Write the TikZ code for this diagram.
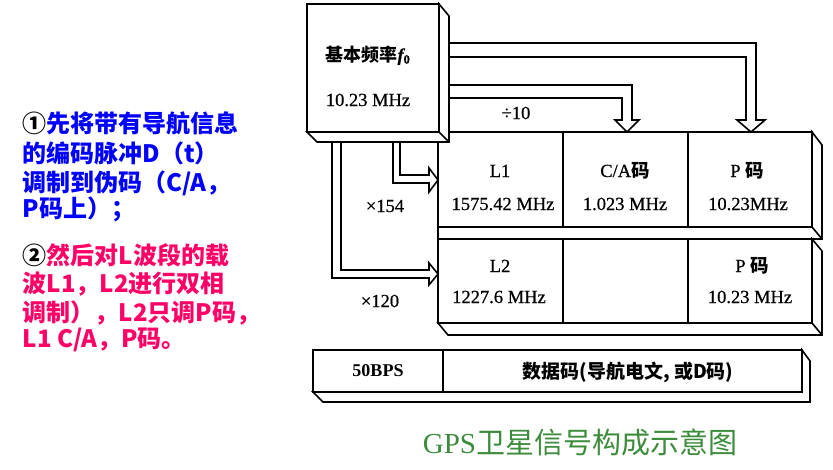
\documentclass[tikz,border=0pt]{standalone}
\usepackage{fontspec}
\setmainfont{Liberation Serif}
\newfontfamily\dserif{Liberation Serif}[FakeBold=0.6]
\newfontfamily\cjk{Noto Sans CJK SC}
\definecolor{tblue}{RGB}{0,0,255}
\definecolor{tpink}{RGB}{255,0,102}
\definecolor{tgreen}{RGB}{60,140,60}
\begin{document}
\begin{tikzpicture}[x=1pt,y=-1pt,line width=1.6pt,line join=miter,
  face/.style={draw,fill=white,inner sep=0pt,outer sep=0pt,anchor=north west},
  shade3d/.style={draw,fill=white},
  harrow/.style={draw,line width=1.6pt},
  lbl/.style={inner sep=0pt,font=\dserif\fontsize{18.5}{20}\selectfont},
  clbl/.style={inner sep=0pt,font=\cjk\bfseries\fontsize{18}{20}\selectfont},
  bluetxt/.style={inner sep=0pt,anchor=base west,text=tblue,font=\cjk\bfseries\fontsize{24}{29}\selectfont},
  pinktxt/.style={inner sep=0pt,anchor=base west,text=tpink,font=\cjk\bfseries\fontsize{24}{29}\selectfont}]
\useasboundingbox (0,0) rectangle (833,469);

% ---------- left explanatory text ----------
\node[bluetxt] (t1) at (22,132) {{\color{black}①}先将带有导航信息};
\node[bluetxt] (t2) at (22,162) {的编码脉冲D（t）};
\node[bluetxt] (t3) at (22,191) {调制到伪码（C/A，};
\node[bluetxt] (t4) at (22,217) {P码上）；};
\node[pinktxt] (t5) at (22,264) {{\color{black}②}然后对L波段的载};
\node[pinktxt] (t6) at (22,292) {波L1，L2进行双相};
\node[pinktxt] (t7) at (22,321) {调制），L2只调P码，};
\node[pinktxt] (t8) at (22,347) {L1 C/A，P码。};

% ---------- L1 row ----------
\draw[shade3d] (438,227) -- (438,239) -- (822,239) -- (822,145) -- (812,132) -- (812,227) -- cycle;
\draw (812,227) -- (822,239);
\node[face,minimum width=125,minimum height=95] (l1) at (438,132) {};
\node[face,minimum width=125,minimum height=95] (ca) at (563,132) {};
\node[face,minimum width=124,minimum height=95] (p1) at (688,132) {};
% ---------- L2 row ----------
\draw[shade3d] (438,323) -- (448,335) -- (822,335) -- (822,251) -- (812,239) -- (812,323) -- cycle;
\draw (812,323) -- (822,335);
\node[face,minimum width=125,minimum height=84] (l2) at (438,239) {};
\node[face,minimum width=125,minimum height=84] (mid) at (563,239) {};
\node[face,minimum width=124,minimum height=84] (p2) at (688,239) {};

% ---------- top box ----------
\draw[shade3d] (307,132) -- (317,142) -- (449,142) -- (449,16) -- (439,4) -- (439,132) -- cycle;
\draw (439,132) -- (449,142);
\node[face,minimum width=132,minimum height=128] (f0) at (307,4) {};
\node[clbl,anchor=base] (f0a) at (368,61) {基本频率{\dserif\itshape f}\textsubscript{\dserif 0}};
\node[lbl,anchor=base] (f0b) at (368,106) {10.23 MHz};

% ---------- hollow arrows ----------
\draw[harrow] (449,43) -- (756,43) -- (756,120) -- (765,120) -- (751,132) -- (737,120) -- (746,120) -- (746,57) -- (449,57);
\draw[harrow] (449,85) -- (632,85) -- (632,120) -- (639,120) -- (627,132) -- (615,120) -- (622,120) -- (622,98) -- (449,98);
\draw[harrow] (393,142) -- (393,183) -- (429,183) -- (429,192) -- (438,180) -- (429,168) -- (429,175) -- (400,175) -- (400,142);
\draw[harrow] (332,142) -- (332,278) -- (429,278) -- (429,285) -- (438,274) -- (429,263) -- (429,270) -- (341,270) -- (341,142);

\node[lbl] (div10) at (516,113) {÷10};
\node[lbl] (x154) at (385,206) {×154};
\node[lbl] (x120) at (380,301) {×120};

% ---------- cell texts ----------
\node[lbl,anchor=base] (l1a) at (500,177) {L1};
\node[lbl,anchor=base] (l1b) at (503,210) {1575.42 MHz};
\node[lbl,anchor=base] (caa) at (625,177) {C/A{\cjk\bfseries 码}};
\node[lbl,anchor=base] (cab) at (625,210) {1.023 MHz};
\node[lbl,anchor=base] (p1a) at (747,177) {P {\cjk\bfseries 码}};
\node[lbl,anchor=base] (p1b) at (748,210) {10.23MHz};
\node[lbl,anchor=base] (l2a) at (500,272) {L2};
\node[lbl,anchor=base] (l2b) at (499,303) {1227.6 MHz};
\node[lbl,anchor=base] (p2a) at (752,272) {P {\cjk\bfseries 码}};
\node[lbl,anchor=base] (p2b) at (750,303) {10.23 MHz};

% ---------- bottom strip ----------
\draw[shade3d] (313,392) -- (323,402) -- (810,402) -- (810,361) -- (802,350) -- (802,392) -- cycle;
\node[face,minimum width=130,minimum height=42] (bps) at (313,350) {};
\node[face,minimum width=359,minimum height=42] (data) at (443,350) {};
\node[lbl,font=\bfseries\fontsize{18}{20}\selectfont] (bpst) at (bps.center) {50BPS};
\node[clbl,font=\cjk\bfseries\fontsize{19}{20}\selectfont] (datat) at (628,372) {数据码(导航电文, 或D码)};

% ---------- title ----------
\node[inner sep=0pt,text=tgreen,font=\fontsize{29}{32}\selectfont] (title) at (580,442) {GPS{\cjk 卫星信号构成示意图}};
\end{tikzpicture}
\end{document}
